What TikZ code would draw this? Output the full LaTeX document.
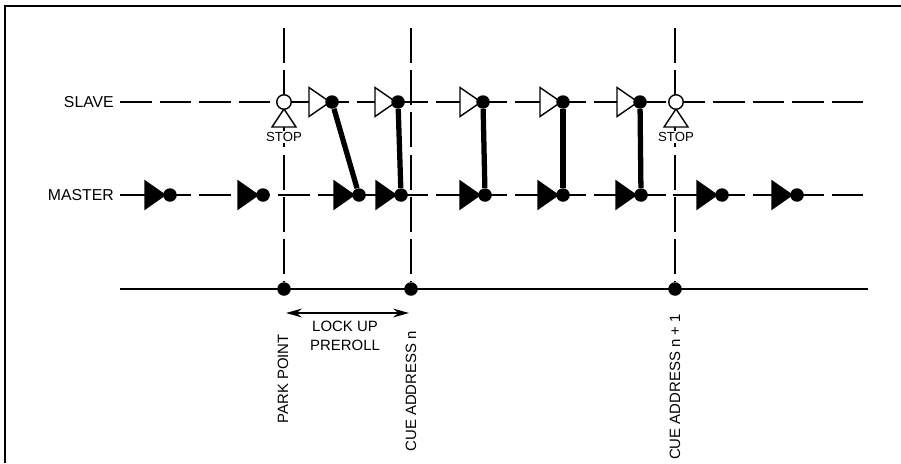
\documentclass[tikz,border=0pt]{standalone}
\usepackage{fontspec}
\setmainfont{Liberation Sans}
\usetikzlibrary{positioning, arrows.meta}

\begin{document}
\begin{tikzpicture}[x=0.02cm, y=-0.02cm,
    track/.style={line width=0.7pt, dash pattern=on 18pt off 4.5pt},
    cueline/.style={line width=0.7pt, dash pattern=on 20pt off 4pt},
    dot/.style={circle, fill=black, minimum size=0.27cm, inner sep=0pt},
    tri/.style={draw=black, line width=0.8pt, line join=miter},
    slvtri/.style={tri, fill=white},
    mstri/.style={tri, fill=black},
    link/.style={line width=3pt},
    stopc/.style={circle, draw=black, fill=white, line width=0.8pt, minimum size=0.29cm, inner sep=0pt},
    trackname/.style={font=\fontsize{9}{11}\selectfont, anchor=east},
    lbl/.style={font=\fontsize{8.5}{10.8}\selectfont},
    stoplbl/.style={font=\fontsize{7.5}{9}\selectfont, fill=white, inner sep=1pt},
    span/.style={{Stealth[length=9pt, width=5pt]}-{Stealth[length=9pt, width=5pt]}, line width=1.1pt},
  ]
  \useasboundingbox (0,0) rectangle (901,463);
  % frame
  \draw[line width=0.9pt] (5,463) -- (5,6) -- (901,6);
  % tracks
  \node[trackname] (slave) at (120,102) {SLAVE};
  \node[trackname] (master) at (120,195) {MASTER};
  \coordinate (slaveend) at (868,102);
  \coordinate (masterend) at (868,195);
  \draw[track] (slave.east) -- (slaveend);
  \draw[track] (master.east) -- (masterend);
  % time line
  \coordinate (tl0) at (120,289);
  \coordinate (tl1) at (868,289);
  \draw[line width=0.8pt] (tl0) -- (tl1);
  \node[dot] (pp) at (284,289) {};
  \node[dot] (cn) at (411,289) {};
  \node[dot] (cnn) at (675,289) {};
  \coordinate (pptop) at (284,28);
  \coordinate (cntop) at (411,28);
  \coordinate (cnntop) at (675,28);
  \draw[cueline] (pptop) -- (pp);
  \draw[cueline] (cntop) -- (cn);
  \draw[cueline] (cnntop) -- (cnn);
  % stops
  \foreach \n/\px in {1/284, 2/676} {
    \draw[slvtri] (\px,109) -- (\px+12,127) -- (\px-12,127) -- cycle;
    \node[stopc] (stop\n) at (\px,102) {};
    \node[stoplbl] at (\px,137) {STOP};
  }
  % slave marks
  \foreach \n/\px in {1/332, 2/398, 3/483, 4/563, 5/640} {
    \draw[slvtri] (\px-2,102) -- (\px-23,87.5) -- (\px-23,116.5) -- cycle;
    \node[dot] (s\n) at (\px,102) {};
  }
  % master marks
  \foreach \n/\px in {1/170, 2/263, 3/359, 4/401, 5/485, 6/563, 7/641, 8/722, 9/797} {
    \draw[mstri] (\px-5,195) -- (\px-25,181) -- (\px-25,209) -- cycle;
    \node[dot] (m\n) at (\px,195) {};
  }
  % lock links
  \foreach \a/\b in {1/3, 2/4, 3/5, 4/6, 5/7}
    \draw[link] (s\a) -- (m\b);
  % preroll
  \coordinate (lk0) at (286,313);
  \coordinate (lk1) at (409,313);
  \draw[span] (lk0) -- (lk1);
  \node[lbl, align=center] (preroll) at (345,336) {LOCK UP\\PREROLL};
  % cue labels
  \node[lbl, rotate=90, anchor=east] at (283,328) {PARK POINT};
  \node[lbl, rotate=90, anchor=east] at (411,325) {CUE ADDRESS n};
  \node[lbl, rotate=90, anchor=east] at (675,308) {CUE ADDRESS n + 1};
\end{tikzpicture}
\end{document}
